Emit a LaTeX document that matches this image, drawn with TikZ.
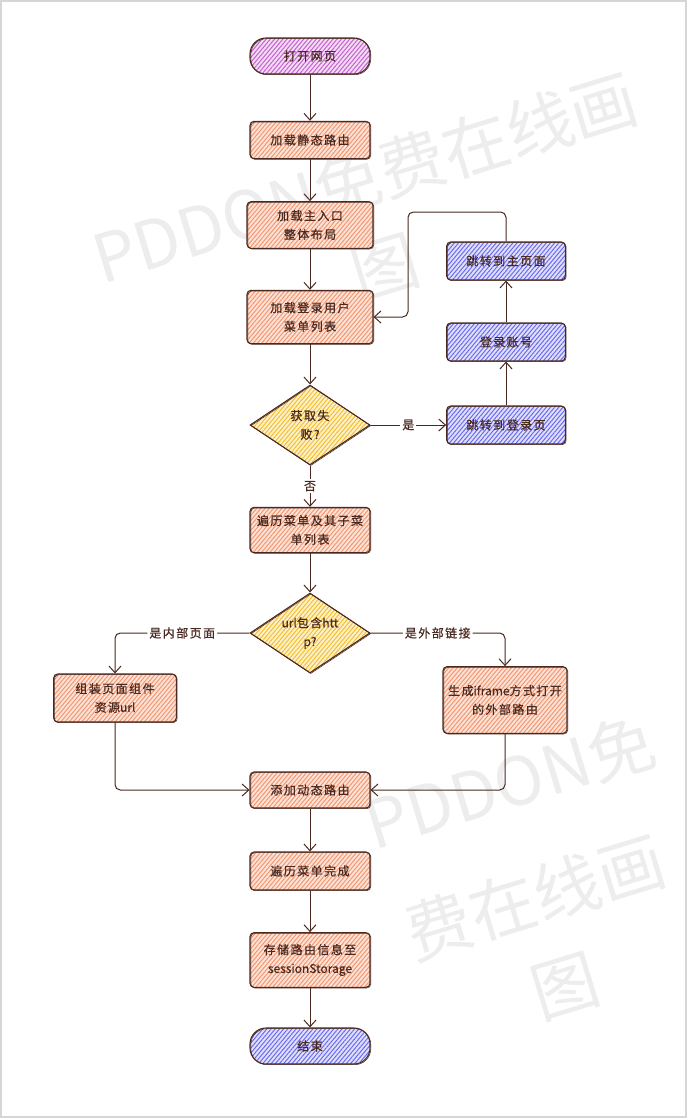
\documentclass[tikz,border=0pt]{standalone}
\usepackage{fontspec}
\newfontfamily\cjk[LetterSpace=12,FakeBold=0.6]{Noto Sans CJK SC}
\newfontfamily\lat[FakeBold=0.3]{Noto Sans CJK SC}
\newfontfamily\wmfont{Noto Sans CJK SC}
\usetikzlibrary{arrows.meta,patterns.meta,shapes.geometric,calc}
\definecolor{ink}{HTML}{4A2A20}
\definecolor{orH}{HTML}{F4966F}
\definecolor{orT}{HTML}{FCE3D8}
\definecolor{puH}{HTML}{C660CF}
\definecolor{puT}{HTML}{F3DCF5}
\definecolor{blH}{HTML}{6A6AF0}
\definecolor{blT}{HTML}{E0E0FC}
\definecolor{yeH}{HTML}{F5BE2E}
\definecolor{yeT}{HTML}{FDF1CC}
\definecolor{wmc}{HTML}{EDEDED}
\definecolor{frame}{HTML}{D6D6D6}
\tikzset{
  base/.style={draw=ink, line width=0.8pt, text=ink, font=\cjk\fontsize{9}{18}\selectfont, align=center, inner sep=1pt,
    postaction={draw=ink, line width=0.4pt, transform canvas={xshift=0.6pt,yshift=-0.5pt}}},
  hatch/.style 2 args={preaction={fill=#2}, pattern={Lines[angle=50,distance=2.4pt,line width=0.75pt]}, pattern color=#1},
  proc/.style={base, rectangle, rounded corners=3pt, hatch={orH}{orT}, minimum width=90pt},
  blue/.style={base, rectangle, rounded corners=3pt, hatch={blH}{blT}, minimum width=89pt, minimum height=28.5pt},
  term/.style={base, rectangle, rounded corners=12pt, minimum width=90pt, minimum height=27pt},
  dec/.style={base, diamond, aspect=1.5, inner sep=0pt, minimum width=90pt, minimum height=60pt, hatch={yeH}{yeT}},
  ar/.style={draw=ink, line width=0.75pt, -{Straight Barb[length=5pt,width=9pt,line width=0.75pt]}},
  lab/.style={fill=white, text=ink, font=\cjk\fontsize{9}{11}\selectfont, inner sep=1.5pt},
  wm/.style={text=wmc, font=\wmfont\fontsize{50}{50}\selectfont, rotate=17, inner sep=0pt}
}
\begin{document}
\begin{tikzpicture}[x=0.75pt,y=-0.75pt]
\useasboundingbox (0,0) rectangle (687,1118);
\fill[white] (0,0) rectangle (687,1118);
\draw[frame, line width=0.8pt] (1,1) rectangle (686,1117);
% watermarks
\node[wm] (w1) at (365,178) {PDDON免费在线画};
\node[wm] (w2) at (385,268) {图};
\node[wm] (w3) at (510,782) {PDDON免};
\node[wm] (w4) at (535,897) {费在线画};
\node[wm] (w5) at (565,987) {图};
% nodes
\node[term, hatch={puH}{puT}] (start) at (310,56) {打开网页};
\node[proc, minimum height=28pt] (s1) at (310,140) {加载静态路由};
\node[proc, minimum width=94.5pt, minimum height=35pt] (s2) at (310,225) {加载主入口\\[-4pt]整体布局};
\node[proc, minimum width=94.5pt, minimum height=40pt] (s3) at (310,317) {加载登录用户\\[-4pt]菜单列表};
\node[dec] (d1) at (310,425) {获取失\\[-4pt]败?};
\node[blue] (b1) at (506,425) {跳转到登录页};
\node[blue] (b2) at (506,342) {登录账号};
\node[blue] (b3) at (506,261) {跳转到主页面};
\node[proc, minimum height=34pt] (s4) at (310,530) {遍历菜单及其子菜\\[-4pt]单列表};
\node[dec] (d2) at (310,633) {{\lat url}包含{\lat htt}\\[-4pt]{\lat p?}};
\node[proc, minimum width=92pt, minimum height=36pt] (bl) at (115,698) {组装页面组件\\[-4pt]资源{\lat url}};
\node[proc, minimum width=93pt, minimum height=50pt] (br) at (505,700) {生成{\lat iframe}方式打开\\[-4pt]的外部路由};
\node[proc, minimum height=27pt] (s5) at (310,790) {添加动态路由};
\node[proc, minimum height=28.5pt] (s6) at (310,871) {遍历菜单完成};
\node[proc, minimum height=41pt] (s7) at (310,960) {存储路由信息至\\[-4pt]{\lat sessionStorage}};
\node[term, hatch={blH}{blT}] (end) at (310,1046) {结束};
\coordinate (k1) at (408,212);
% connectors
\draw[ar] (start) -- (s1);
\draw[ar] (s1) -- (s2);
\draw[ar] (s2) -- (s3);
\draw[ar] (s3) -- (d1);
\draw[ar] (d1.east) -- (b1.west) node[lab, midway] {是};
\draw[ar] (b1) -- (b2);
\draw[ar] (b2) -- (b3);
\draw[ar, rounded corners=4pt] (b3.north) |- (k1) |- (s3.east);
\draw[ar] (d1.south) -- (s4.north) node[lab, midway] {否};
\draw[ar] (s4) -- (d2);
\draw[ar, rounded corners=4pt] (d2.west) -| (bl.north) node[lab, pos=0.25] {是内部页面};
\draw[ar, rounded corners=4pt] (d2.east) -| (br.north) node[lab, pos=0.25] {是外部链接};
\draw[ar, rounded corners=4pt] (bl.south) |- (s5.west);
\draw[ar, rounded corners=4pt] (br.south) |- (s5.east);
\draw[ar] (s5) -- (s6);
\draw[ar] (s6) -- (s7);
\draw[ar] (s7) -- (end);
\end{tikzpicture}
\end{document}
